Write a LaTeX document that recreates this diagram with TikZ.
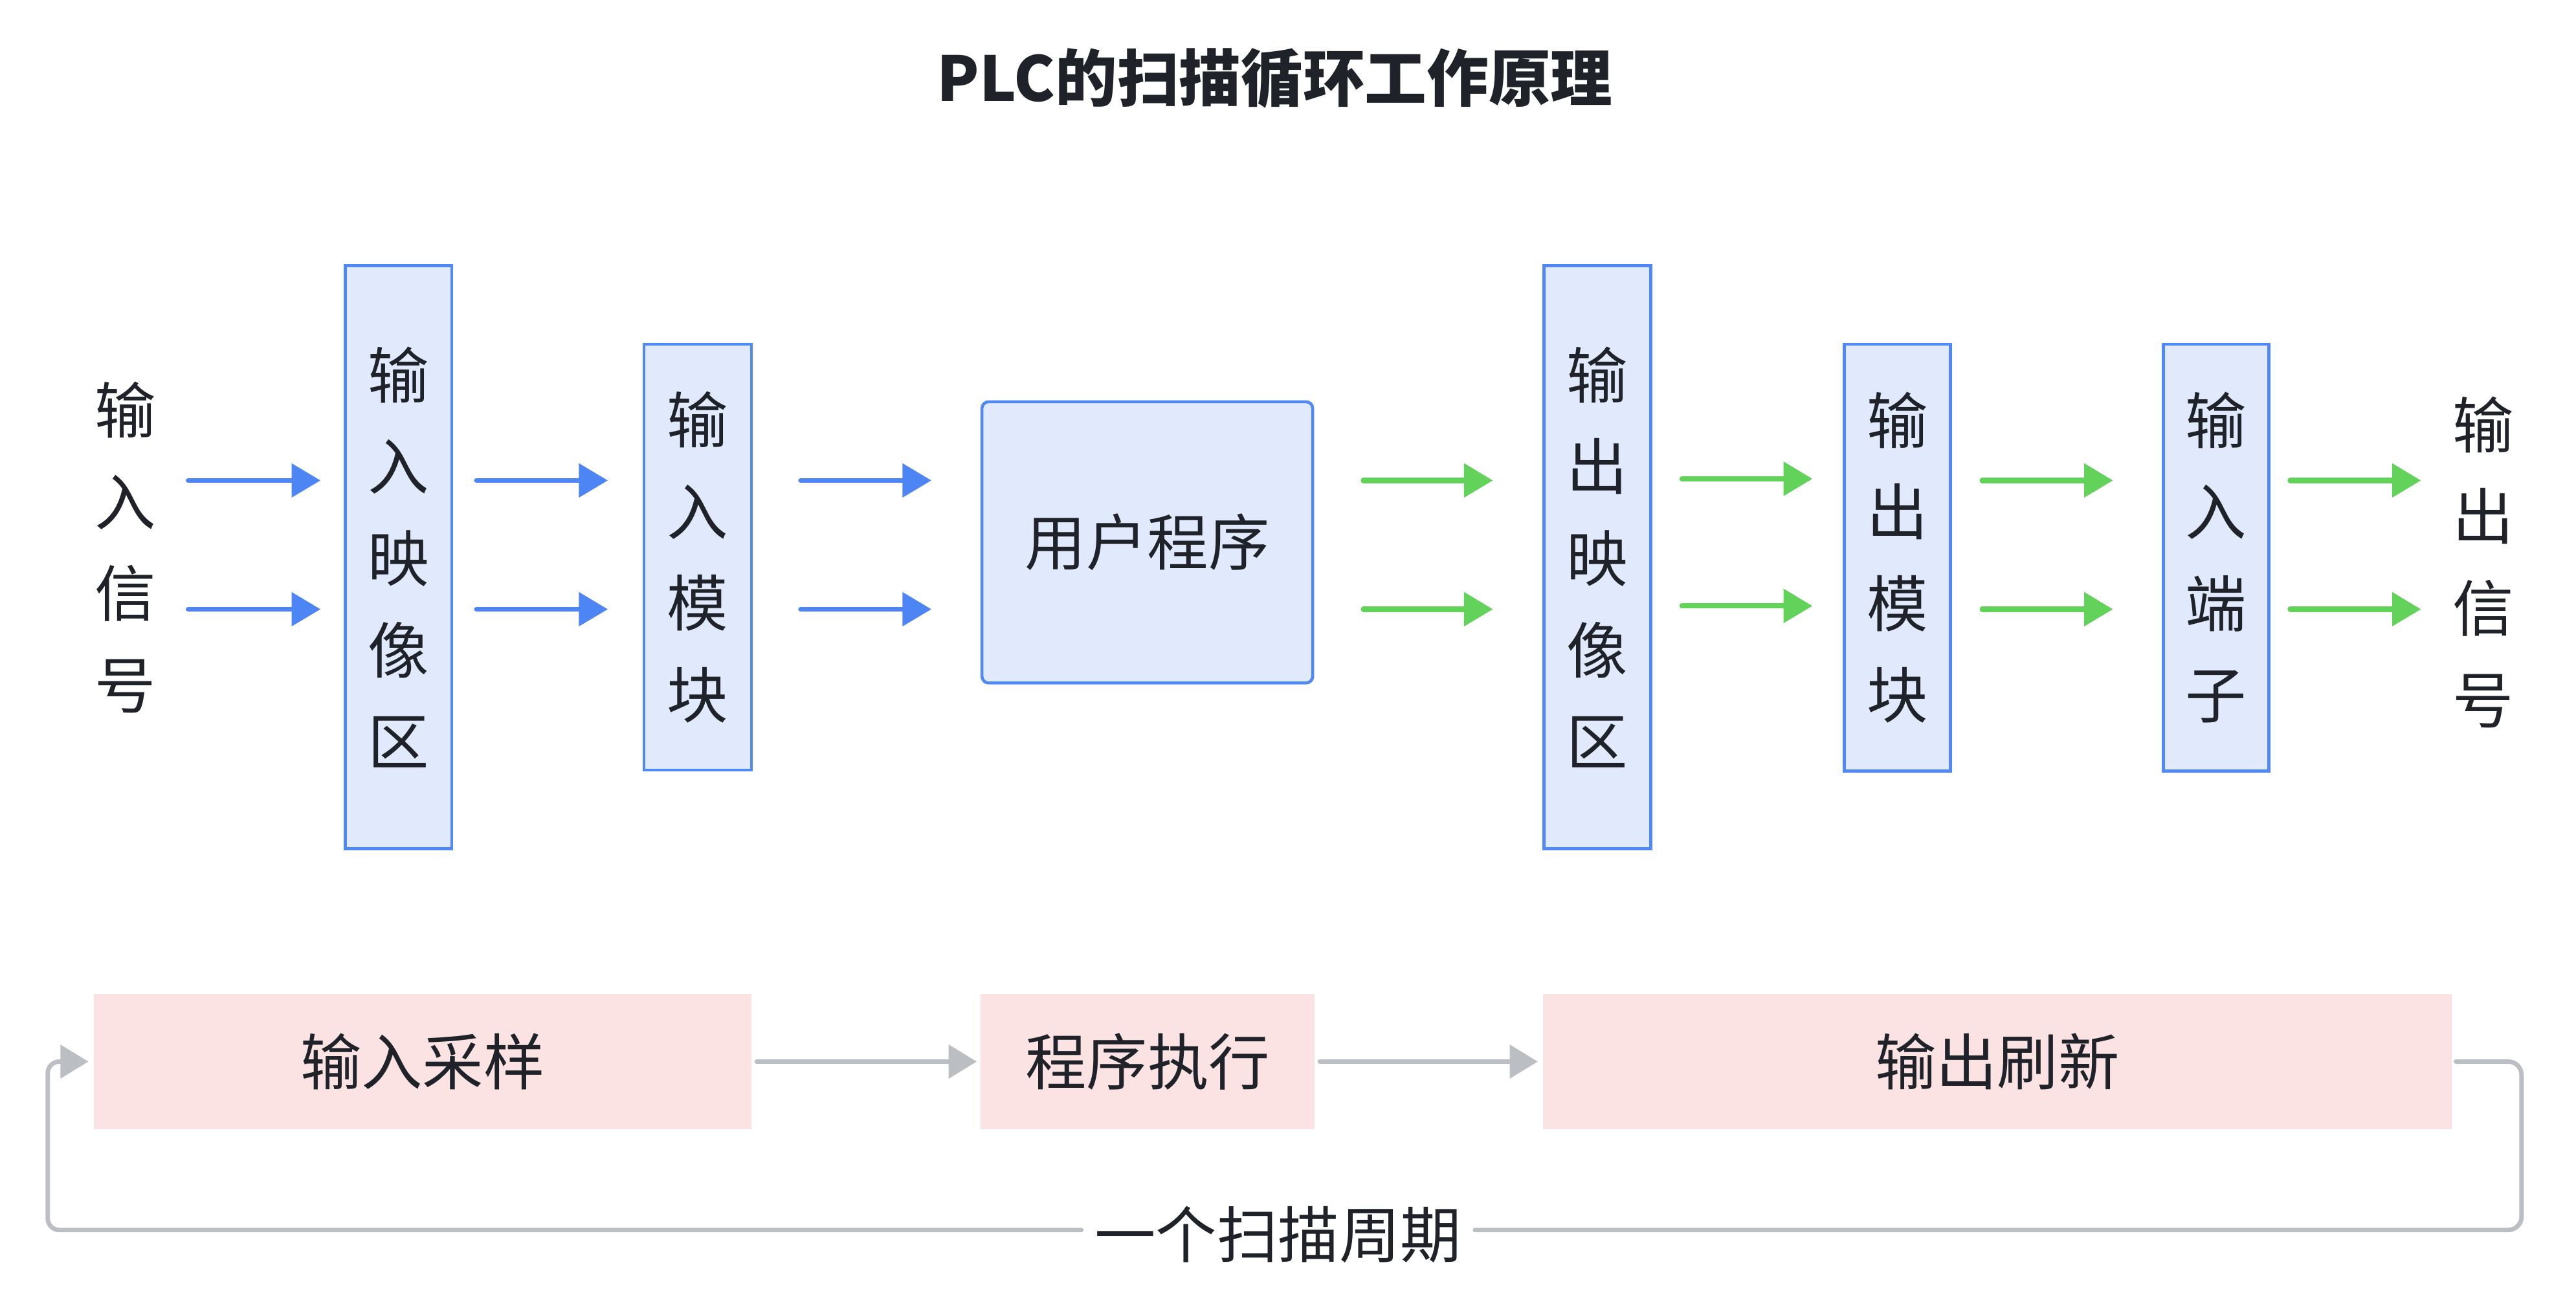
\documentclass[tikz,border=0pt]{standalone}
\usepackage{fontspec}
\setmainfont{Noto Sans CJK SC}
\usetikzlibrary{arrows.meta,calc}
\definecolor{txt}{HTML}{1F2329}
\definecolor{bord}{HTML}{5089F6}
\definecolor{bfill}{HTML}{E1E9FD}
\definecolor{ablue}{HTML}{4D85F5}
\definecolor{agreen}{HTML}{62D25A}
\definecolor{pfill}{HTML}{FCE3E3}
\definecolor{agray}{HTML}{BBBFC4}
\begin{document}
\begin{tikzpicture}[x=1pt,y=-1pt,
  vbox/.style={draw=bord, fill=bfill, line width=1.8pt, inner sep=0pt, align=center, text=txt,
    font=\fontsize{37}{55.5}\selectfont},
  vtext/.style={inner sep=0pt, align=center, text=txt, font=\fontsize{37}{55.5}\selectfont},
  pbox/.style={fill=pfill, inner sep=0pt, text=txt, minimum height=82pt, font=\fontsize{37}{44}\selectfont},
  barrow/.style={draw=ablue, line width=3pt, line cap=round, -{Triangle[length=17.5pt,width=20pt]}},
  garrow/.style={draw=agreen, line width=3.2pt, line cap=round, -{Triangle[length=17.5pt,width=20pt]}},
  gline/.style={draw=agray, line width=2.7pt, line cap=round, rounded corners=8pt},
  grarrow/.style={draw=agray, line width=2.7pt, line cap=round, -{Triangle[length=17pt,width=20pt]}},
]
\useasboundingbox (0,0) rectangle (1560,795);

% title
\node[inner sep=0pt, text=txt, font=\fontsize{37.5}{44}\selectfont\bfseries] (title) at (772,47.5) {PLC的扫描循环工作原理};

% signal texts
\node[vtext] (insig) at (75.9,331.5) {输\\入\\信\\号};
\node[vtext] (outsig) at (1504,340.5) {输\\出\\信\\号};

% top boxes
\node[vbox, minimum width=64.6pt, minimum height=353pt] (inimg) at (241.3,337.5) {输\\入\\映\\像\\区};
\node[vbox, minimum width=65pt, minimum height=258pt] (inmod) at (422.5,337.5) {输\\入\\模\\块};
\node[vbox, rounded corners=4pt, minimum width=200.3pt, minimum height=170.3pt, font=\fontsize{37}{44}\selectfont] (user) at (694.8,328.5) {用户程序};
\node[vbox, minimum width=64.6pt, minimum height=353pt] (outimg) at (967.3,337.5) {输\\出\\映\\像\\区};
\node[vbox, minimum width=64.2pt, minimum height=258.4pt] (outmod) at (1149,337.7) {输\\出\\模\\块};
\node[vbox, minimum width=64pt, minimum height=258.4pt] (term) at (1342,337.7) {输\\入\\端\\子};

% row coordinates
\coordinate (ra) at (0,291);
\coordinate (rb) at (0,369);
\coordinate (rc) at (0,290);
\coordinate (rd) at (0,367);

% blue arrows
\draw[barrow] ([xshift=19.4pt]insig.east |- ra) -- ([xshift=-14pt]inimg.west |- ra);
\draw[barrow] ([xshift=19.4pt]insig.east |- rb) -- ([xshift=-14pt]inimg.west |- rb);
\draw[barrow] ([xshift=14.1pt]inimg.east |- ra) -- ([xshift=-21pt]inmod.west |- ra);
\draw[barrow] ([xshift=14.1pt]inimg.east |- rb) -- ([xshift=-21pt]inmod.west |- rb);
\draw[barrow] ([xshift=29pt]inmod.east |- ra) -- ([xshift=-29.7pt]user.west |- ra);
\draw[barrow] ([xshift=29pt]inmod.east |- rb) -- ([xshift=-29.7pt]user.west |- rb);

% green arrows
\draw[garrow] ([xshift=29.8pt]user.east |- ra) -- ([xshift=-30pt]outimg.west |- ra);
\draw[garrow] ([xshift=29.8pt]user.east |- rb) -- ([xshift=-30pt]outimg.west |- rb);
\draw[garrow] ([xshift=18.1pt]outimg.east |- rc) -- ([xshift=-18.4pt]outmod.west |- rc);
\draw[garrow] ([xshift=18.1pt]outimg.east |- rd) -- ([xshift=-18.4pt]outmod.west |- rd);
\draw[garrow] ([xshift=18.4pt]outmod.east |- ra) -- ([xshift=-29.5pt]term.west |- ra);
\draw[garrow] ([xshift=18.4pt]outmod.east |- rb) -- ([xshift=-29.5pt]term.west |- rb);
\draw[garrow] ([xshift=12pt]term.east |- ra) -- ([xshift=-19.2pt]outsig.west |- ra);
\draw[garrow] ([xshift=12pt]term.east |- rb) -- ([xshift=-19.2pt]outsig.west |- rb);

% bottom phase boxes
\node[pbox, minimum width=398.3pt] (samp) at (255.9,643) {输入采样};
\node[pbox, minimum width=202pt] (exec) at (695,643) {程序执行};
\node[pbox, minimum width=550.1pt] (refresh) at (1209.5,643) {输出刷新};

\draw[grarrow] ([xshift=3pt]samp.east) -- ([xshift=-2.3pt]exec.west);
\draw[grarrow] ([xshift=3pt]exec.east) -- ([xshift=-3pt]refresh.west);

% scan cycle loop
\node[inner sep=0pt, text=txt, font=\fontsize{37}{44}\selectfont] (cyc) at (774,747.6) {一个扫描周期};
\coordinate (cr) at (1527,745);
\coordinate (cl) at (28.9,745);
\draw[gline] ([xshift=2.5pt]refresh.east) -| (cr) -- ([xshift=8pt]cyc.east |- cr);
\draw[grarrow, rounded corners=7pt] ([xshift=-8pt]cyc.west |- cl) -- (cl) |- ([xshift=-3pt]samp.west);
\end{tikzpicture}
\end{document}
